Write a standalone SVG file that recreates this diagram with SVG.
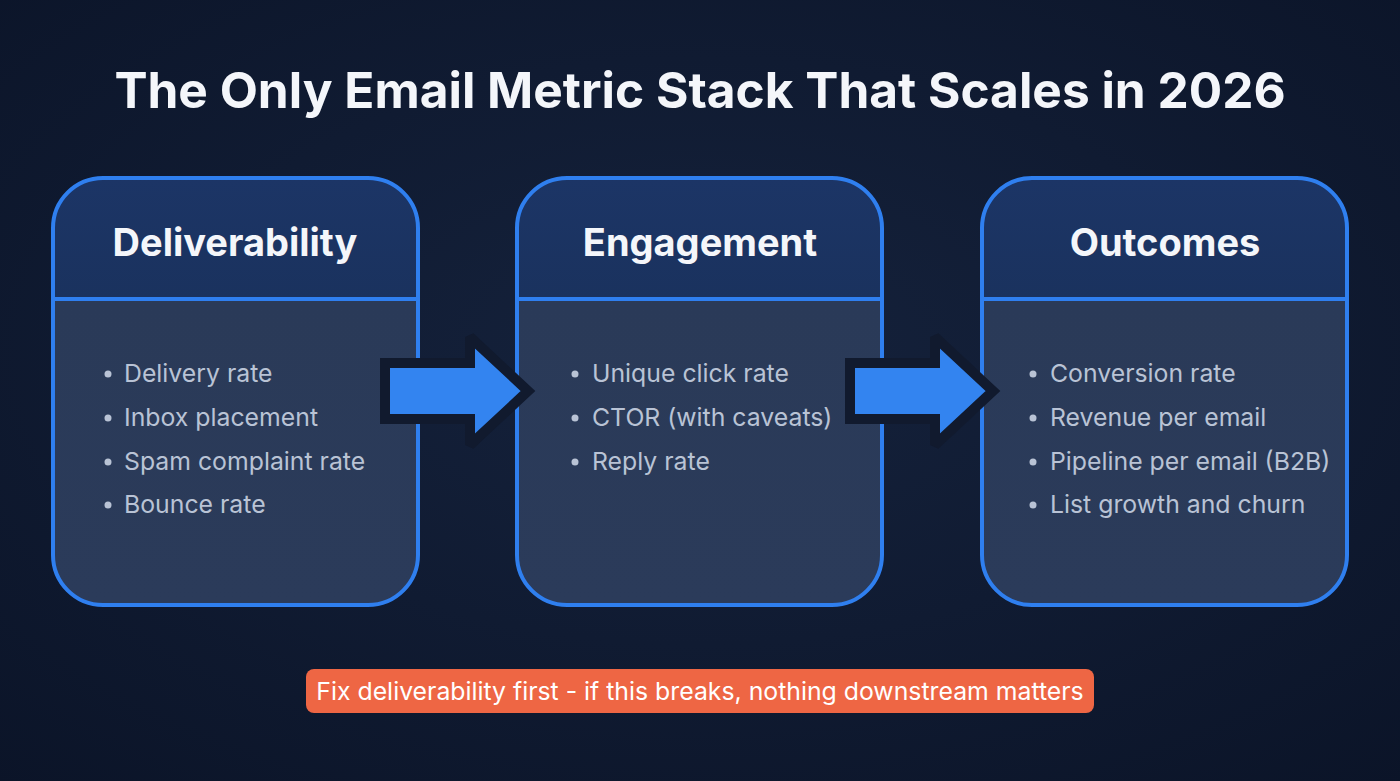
<svg xmlns="http://www.w3.org/2000/svg" width="1400" height="781" viewBox="0 0 1400 781">
  <defs>
    <radialGradient id="bg" cx="50%" cy="45%" r="75%">
      <stop offset="0" stop-color="#15223c"/>
      <stop offset="1" stop-color="#0b1428"/>
    </radialGradient>
    <linearGradient id="hdr" x1="0" y1="0" x2="0" y2="1">
      <stop offset="0" stop-color="#1c3566"/>
      <stop offset="1" stop-color="#1a325e"/>
    </linearGradient>
    <linearGradient id="body" x1="0" y1="0" x2="0" y2="1">
      <stop offset="0" stop-color="#2a3a58"/>
      <stop offset="1" stop-color="#2b3b5a"/>
    </linearGradient>
    <clipPath id="c1"><rect x="53" y="178" width="365" height="427" rx="50"/></clipPath>
    <clipPath id="c2"><rect x="517" y="178" width="365" height="427" rx="50"/></clipPath>
    <clipPath id="c3"><rect x="982" y="178" width="365" height="427" rx="50"/></clipPath>
    <style>
      .title{font-family:Inter,"Liberation Sans",sans-serif;font-weight:700;font-size:49.6px;fill:#f4f6fa;text-anchor:middle}
      .hd{font-family:Inter,"Liberation Sans",sans-serif;font-weight:700;font-size:38px;fill:#f4f6fa;text-anchor:middle}
      .it{font-family:Inter,"Liberation Sans",sans-serif;font-size:24.8px;fill:#b9c3d5}
      .dot{fill:#b9c3d5}
      .frame{fill:none;stroke:#2f7fef;stroke-width:4}
      .div{stroke:#2f7fef;stroke-width:4}
      .arrow{fill:#3384f0;stroke:#111a2e;stroke-width:10;stroke-linejoin:miter;stroke-miterlimit:2}
      .note{font-family:Inter,"Liberation Sans",sans-serif;font-size:24.8px;fill:#ffffff;text-anchor:middle}
    </style>
  </defs>
  <rect width="1400" height="781" fill="url(#bg)"/>
  <text class="title" x="700" y="108">The Only Email Metric Stack That Scales in 2026</text>

  <g id="node-deliverability">
    <g clip-path="url(#c1)">
      <rect x="53" y="178" width="365" height="121" fill="url(#hdr)"/>
      <rect x="53" y="299" width="365" height="306" fill="url(#body)"/>
    </g>
    <line class="div" x1="53" y1="299" x2="418" y2="299"/>
    <rect class="frame" x="53" y="178" width="365" height="427" rx="50"/>
    <text class="hd" x="235" y="256">Deliverability</text>
    <circle class="dot" cx="108" cy="374" r="3.5"/>
    <text class="it" x="124" y="382">Delivery rate</text>
    <circle class="dot" cx="108" cy="418" r="3.5"/>
    <text class="it" x="124" y="426">Inbox placement</text>
    <circle class="dot" cx="108" cy="462" r="3.5"/>
    <text class="it" x="124" y="470">Spam complaint rate</text>
    <circle class="dot" cx="108" cy="505" r="3.5"/>
    <text class="it" x="124" y="513">Bounce rate</text>
  </g>

  <g id="node-engagement">
    <g clip-path="url(#c2)">
      <rect x="517" y="178" width="365" height="121" fill="url(#hdr)"/>
      <rect x="517" y="299" width="365" height="306" fill="url(#body)"/>
    </g>
    <line class="div" x1="517" y1="299" x2="882" y2="299"/>
    <rect class="frame" x="517" y="178" width="365" height="427" rx="50"/>
    <text class="hd" x="700" y="256">Engagement</text>
    <circle class="dot" cx="575" cy="374" r="3.5"/>
    <text class="it" x="592" y="382">Unique click rate</text>
    <circle class="dot" cx="575" cy="418" r="3.5"/>
    <text class="it" x="592" y="426">CTOR (with caveats)</text>
    <circle class="dot" cx="575" cy="462" r="3.5"/>
    <text class="it" x="592" y="470">Reply rate</text>
  </g>

  <g id="node-outcomes">
    <g clip-path="url(#c3)">
      <rect x="982" y="178" width="365" height="121" fill="url(#hdr)"/>
      <rect x="982" y="299" width="365" height="306" fill="url(#body)"/>
    </g>
    <line class="div" x1="982" y1="299" x2="1347" y2="299"/>
    <rect class="frame" x="982" y="178" width="365" height="427" rx="50"/>
    <text class="hd" x="1165" y="256">Outcomes</text>
    <circle class="dot" cx="1033" cy="374" r="3.5"/>
    <text class="it" x="1050" y="382">Conversion rate</text>
    <circle class="dot" cx="1033" cy="418" r="3.5"/>
    <text class="it" x="1050" y="426">Revenue per email</text>
    <circle class="dot" cx="1033" cy="462" r="3.5"/>
    <text class="it" x="1050" y="470">Pipeline per email (B2B)</text>
    <circle class="dot" cx="1033" cy="505" r="3.5"/>
    <text class="it" x="1050" y="513">List growth and churn</text>
  </g>

  <g id="connectors">
    <path class="arrow" d="M385 363 H470 V337 L528 391 L470 445 V419 H385 Z"/>
    <path class="arrow" d="M850 363 H935 V337 L993 391 L935 445 V419 H850 Z"/>
  </g>

  <g id="note">
    <rect x="306" y="669" width="788" height="44" rx="8" fill="#ee6644"/>
    <text class="note" x="700" y="700">Fix deliverability first - if this breaks, nothing downstream matters</text>
  </g>
</svg>
